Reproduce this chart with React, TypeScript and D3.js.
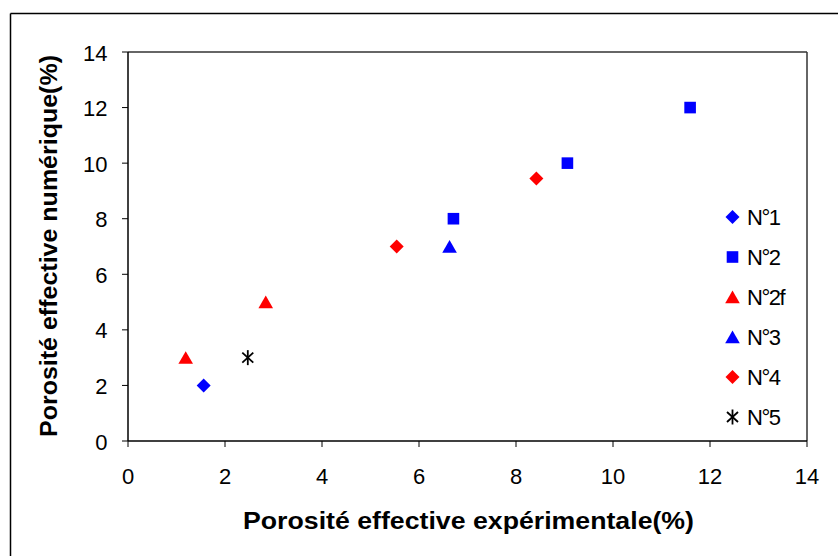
import React from "react";
import * as d3 from "d3";

const seriesNames = ["N°1", "N°2", "N°2f", "N°3", "N°4", "N°5"];
const seriesColors = ["#0000ff", "#0000ff", "#ff0000", "#0000ff", "#ff0000", "#000000"];
const seriesShapes = ["diamond", "square", "triangle", "triangle", "diamond", "star"];
const n1 = [[1.56, 2]];
const n2 = [[6.71, 8], [9.06, 10], [11.59, 12]];
const n2f = [[1.19, 3], [2.84, 5]];
const n3 = [[6.63, 7]];
const n4 = [[5.54, 7], [8.42, 9.45]];
const n5 = [[2.47, 3]];
const seriesData = [n1, n2, n2f, n3, n4, n5];
const xTicks = [0, 2, 4, 6, 8, 10, 12, 14];
const yTicks = [0, 2, 4, 6, 8, 10, 12, 14];

const W = 838, H = 556;
const left = 128, right = 807, top = 52, bottom = 441;
const FONT = "Liberation Sans, Arial, sans-serif";

function Marker({ shape, color, x, y }: { shape: string; color: string; x: number; y: number }) {
  if (shape === "diamond") {
    const r = 7;
    return <path d={`M${x},${y - r}L${x + r},${y}L${x},${y + r}L${x - r},${y}Z`} fill={color} />;
  }
  if (shape === "square") {
    return <rect x={x - 5.8} y={y - 5.8} width={11.6} height={11.6} fill={color} />;
  }
  if (shape === "triangle") {
    return <path d={`M${x},${y - 6.5}L${x + 7.3},${y + 6.2}L${x - 7.3},${y + 6.2}Z`} fill={color} />;
  }
  const rx = 5.5, ry = 5;
  return (
    <g stroke={color} strokeWidth={1.8}>
      <line x1={x - rx} y1={y - ry} x2={x + rx} y2={y + ry} />
      <line x1={x - rx} y1={y + ry} x2={x + rx} y2={y - ry} />
      <line x1={x} y1={y - 7.5} x2={x} y2={y + 7.5} />
    </g>
  );
}

export default function App() {
  const xs = d3.scaleLinear().domain([0, 14]).range([left, right]);
  const ys = d3.scaleLinear().domain([0, 14]).range([bottom, top]);
  const legendY0 = 217;
  const legendStep = 40;
  return (
    <svg width={W} height={H} style={{ position: "absolute", left: 0, top: 0, background: "#fff" }} fontFamily={FONT}>
      <rect x={0} y={0} width={W} height={H} fill="#fff" />
      <line x1={10.5} y1={13.5} x2={W} y2={13.5} stroke="#000" strokeWidth={1.5} />
      <line x1={10.5} y1={13.5} x2={10.5} y2={H} stroke="#000" strokeWidth={1.5} />
      <line x1={left} y1={top} x2={right} y2={top} stroke="#333" strokeWidth={1.5} />
      <line x1={right} y1={top} x2={right} y2={bottom} stroke="#333" strokeWidth={1.5} />
      <line x1={left} y1={top} x2={left} y2={bottom} stroke="#000" strokeWidth={1.5} />
      <line x1={left} y1={bottom} x2={right} y2={bottom} stroke="#000" strokeWidth={1.5} />
      {yTicks.map((t) => (
        <g key={"y" + t}>
          <line x1={left - 6} x2={left} y1={ys(t)} y2={ys(t)} stroke="#000" />
          <text x={107.5} y={ys(t) + 8.5} textAnchor="end" fontSize={22}>{t}</text>
        </g>
      ))}
      {xTicks.map((t) => (
        <g key={"x" + t}>
          <line x1={xs(t)} x2={xs(t)} y1={bottom} y2={bottom + 6} stroke="#000" />
          <text x={xs(t)} y={484} textAnchor="middle" fontSize={22}>{t}</text>
        </g>
      ))}
      <text x={243} y={529} fontSize={23} fontWeight="bold" textLength={451} lengthAdjust="spacingAndGlyphs">Porosité effective expérimentale(%)</text>
      <text transform={`translate(57,437) rotate(-90)`} fontSize={23} fontWeight="bold" textLength={382} lengthAdjust="spacingAndGlyphs">Porosité effective numérique(%)</text>
      {seriesData.map((pts, i) =>
        pts.map((p, j) => (
          <Marker key={i + "-" + j} shape={seriesShapes[i]} color={seriesColors[i]} x={xs(p[0])} y={ys(p[1])} />
        ))
      )}
      {seriesNames.map((n, i) => (
        <g key={"l" + i}>
          <Marker shape={seriesShapes[i]} color={seriesColors[i]} x={732.5} y={legendY0 + i * legendStep} />
          <text x={747} y={legendY0 + i * legendStep + 8} fontSize={22} letterSpacing={-1.5}>{n}</text>
        </g>
      ))}
    </svg>
  );
}
